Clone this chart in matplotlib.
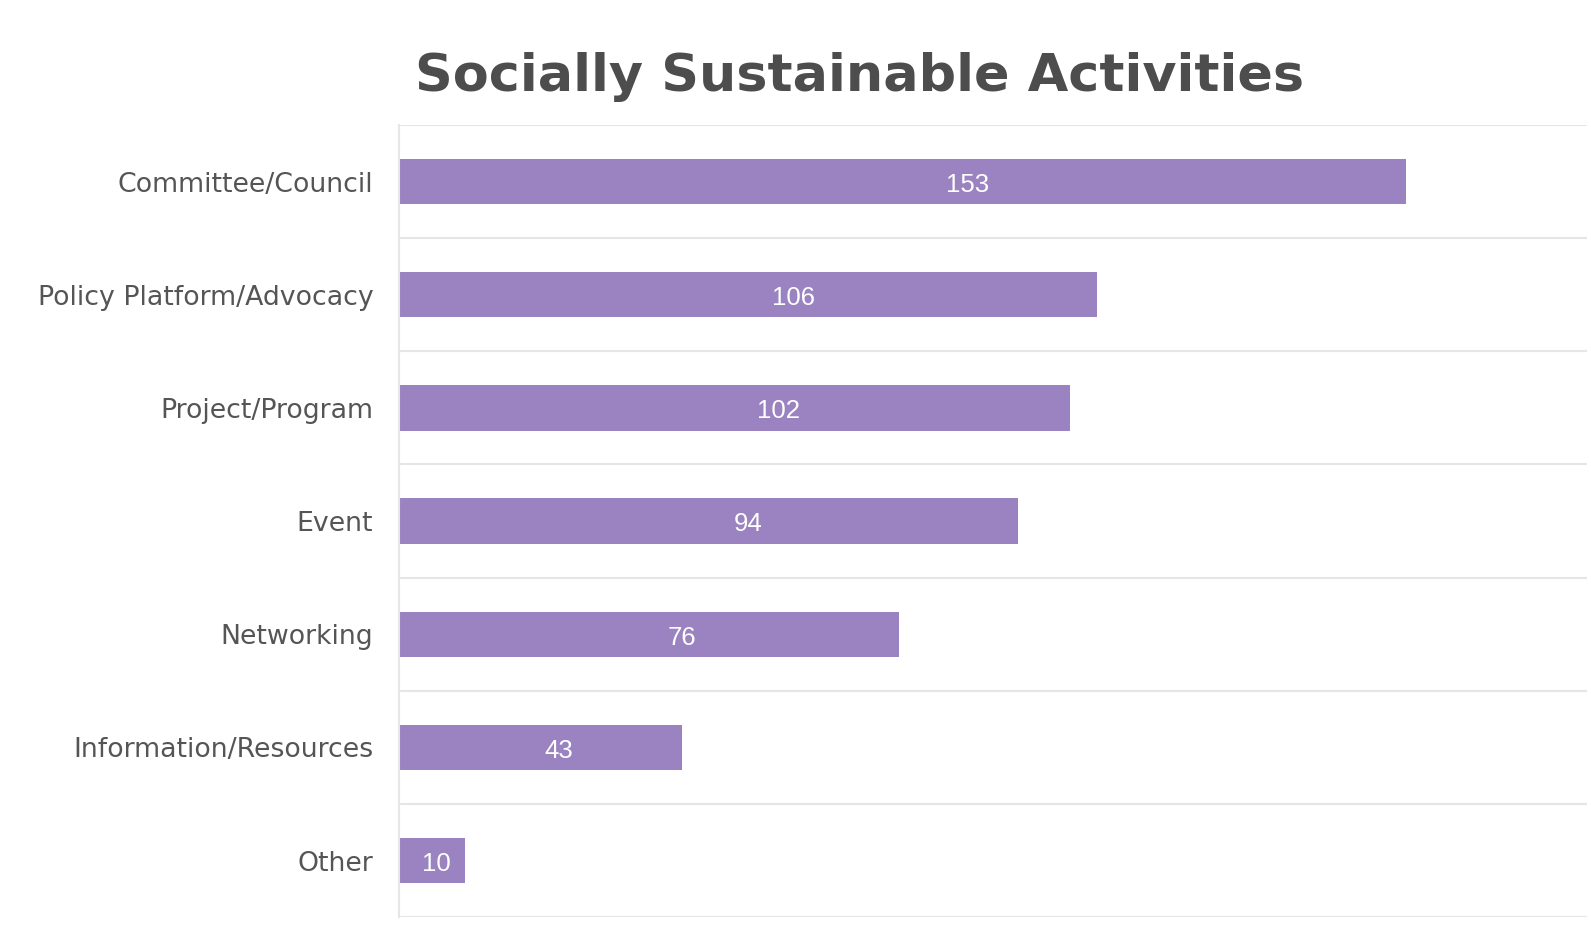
import matplotlib
matplotlib.use("Agg")
import matplotlib.pyplot as plt

categories = [
    "Committee/Council",
    "Policy Platform/Advocacy",
    "Project/Program",
    "Event",
    "Networking",
    "Information/Resources",
    "Other",
]
counts = [153, 106, 102, 94, 76, 43, 10]

BAR_COLOR = "#9a83c0"
GRID_COLOR = "#e6e6e6"
TEXT_COLOR = "#555555"

fig = plt.figure(figsize=(15.91, 9.34), dpi=100)
ax = fig.add_axes([0.2508, 0.018, 0.7467, 0.8482])

ypos = list(range(len(categories)))
bars = ax.barh(ypos, counts, height=0.4, color=BAR_COLOR)

# value labels sit a little right of the bar middle
for rect, val in zip(bars, counts):
    ax.text(rect.get_width() * 0.565,
            rect.get_y() + rect.get_height() / 2 + 0.03,
            str(val), ha="center", va="center",
            color="white", fontsize=18.5, family="Liberation Sans")

ax.set_xlim(0, 180.5)
ax.set_ylim(len(categories) - 0.5, -0.5)
ax.set_yticks(ypos)
ax.set_yticklabels(categories, fontsize=19.3, color=TEXT_COLOR)
ax.tick_params(axis="y", length=0, pad=18.5)
ax.set_xticks([])

# separators between the category rows
for b in range(len(categories) + 1):
    ax.axhline(b - 0.5, color=GRID_COLOR, linewidth=1.5, zorder=0)

for side in ("top", "right", "bottom"):
    ax.spines[side].set_visible(False)
ax.spines["left"].set_color(GRID_COLOR)
ax.spines["left"].set_linewidth(1.5)

fig.text(0.5405, 0.918, "Socially Sustainable Activities",
         ha="center", va="center", fontsize=37.7, fontweight="bold",
         color="#4d4d4d")

fig.savefig("out.png", dpi=100)
